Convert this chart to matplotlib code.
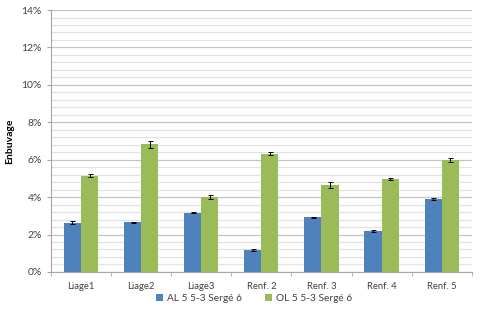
import matplotlib.pyplot as plt
import numpy as np
from matplotlib.ticker import MultipleLocator, PercentFormatter

plt.rcParams['font.family'] = ['Lato', 'DejaVu Sans']

categories = ['Liage1', 'Liage2', 'Liage3', 'Renf. 2', 'Renf. 3', 'Renf. 4', 'Renf. 5']
al_values = [2.64, 2.65, 3.17, 1.17, 2.93, 2.21, 3.91]
al_errors = [0.08, 0.03, 0.04, 0.03, 0.03, 0.05, 0.05]
ol_values = [5.15, 6.82, 4.00, 6.33, 4.65, 4.99, 5.98]
ol_errors = [0.10, 0.20, 0.12, 0.10, 0.15, 0.05, 0.10]
series_names = ['AL 5 5-3 Sergé 6', 'OL 5 5-3 Sergé 6']

if __name__ == '__main__':
    fig = plt.figure(figsize=(4.8, 3.14), dpi=100)
    ax = fig.add_axes([0.106, 0.134, 0.877, 0.834])

    x = np.arange(len(categories))
    w = 0.285
    err_kw = dict(ecolor='black', elinewidth=0.7, capsize=1.8, capthick=0.7)
    # bars
    ax.bar(x - w / 2, al_values, w, yerr=al_errors, color='#4F81BD',
           label=series_names[0], error_kw=err_kw, zorder=3)
    ax.bar(x + w / 2, ol_values, w, yerr=ol_errors, color='#9BBB59',
           label=series_names[1], error_kw=err_kw, zorder=3)

    # axes
    ax.set_xlim(-0.5, len(categories) - 0.5)
    ax.set_ylim(0, 14)
    ax.yaxis.set_major_locator(MultipleLocator(2))
    ax.yaxis.set_minor_locator(MultipleLocator(0.4))
    ax.yaxis.set_major_formatter(PercentFormatter(decimals=0))
    ax.set_xticks(x)
    ax.set_xticklabels(categories)
    ax.set_xticks(np.arange(len(categories) + 1) - 0.5, minor=True)

    # grid
    ax.grid(axis='y', which='major', color='#c4c4c4', linewidth=0.9, zorder=0)
    ax.grid(axis='y', which='minor', color='#e2e2e2', linewidth=0.9, zorder=0)

    for s in ['top', 'right']:
        ax.spines[s].set_visible(False)
    ax.spines['left'].set_color('#a6a6a6')
    ax.spines['bottom'].set_color('#a6a6a6')
    ax.tick_params(axis='x', which='major', length=0, labelsize=6.8, colors='#404040', pad=7)
    ax.tick_params(axis='x', which='minor', length=3, color='#a6a6a6')
    ax.tick_params(axis='y', which='major', length=3, color='#a6a6a6', labelsize=7.5, labelcolor='#404040')
    ax.tick_params(axis='y', which='minor', length=0)

    # label
    ax.set_ylabel('Enbuvage', fontsize=7.5, fontweight='bold')
    ax.yaxis.set_label_coords(-0.088, 0.5)

    # legend
    ax.legend(loc='center', bbox_to_anchor=(0.483, -0.1), ncol=2, frameon=False,
              fontsize=7.3, handlelength=0.7, handleheight=0.7, columnspacing=2.2,
              handletextpad=0.4, labelcolor='#404040')

    plt.savefig('out.png', dpi=100)
